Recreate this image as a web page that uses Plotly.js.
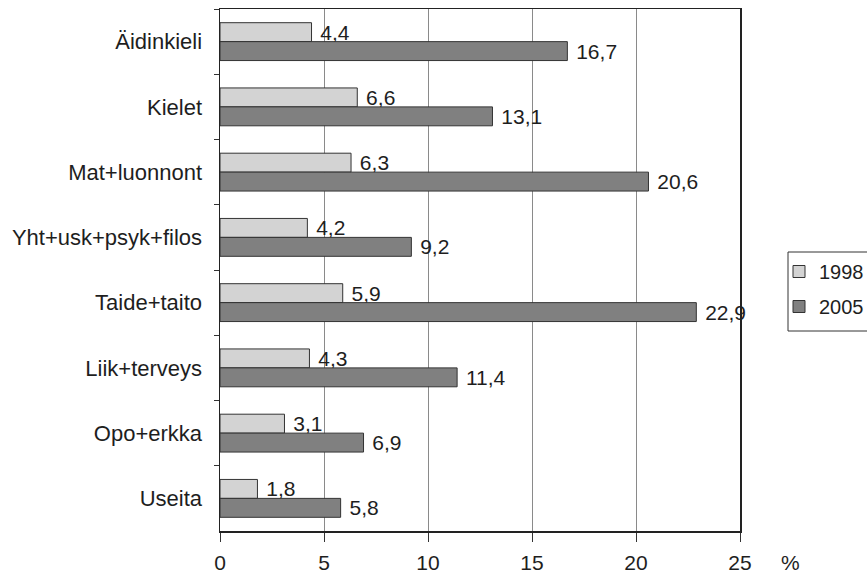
<!DOCTYPE html>
<html>
<head>
<meta charset="utf-8">
<script src="https://cdn.plot.ly/plotly-3.0.1.min.js"></script>
<style>html,body{margin:0;padding:0;background:#fff;}#chart{width:867px;height:574px;}</style>
</head>
<body>
<div id="chart"></div>
<script>
const categories = ["Äidinkieli", "Kielet", "Mat+luonnont", "Yht+usk+psyk+filos", "Taide+taito", "Liik+terveys", "Opo+erkka", "Useita"];
const values1998 = [4.4, 6.6, 6.3, 4.2, 5.9, 4.3, 3.1, 1.8];
const values2005 = [16.7, 13.1, 20.6, 9.2, 22.9, 11.4, 6.9, 5.8];
const seriesNames = ["1998", "2005"];
const xTicks = [0, 5, 10, 15, 20, 25];

const fmt = v => ' ' + v.toFixed(1).replace('.', ',');
const FONT = 'Liberation Sans, Arial, sans-serif';
const TXT = '#1e1e1e';

function barTrace(name, vals, color) {
  return {
    type: 'bar', orientation: 'h', name: name, legendgroup: name,
    y: categories, x: vals,
    text: vals.map(fmt), textposition: 'outside', cliponaxis: false,
    constraintext: 'none',
    textfont: {family: FONT, size: 21, color: TXT},
    marker: {color: color, line: {color: '#333333', width: 1}},
    hoverinfo: 'x+y'
  };
}

const data = [
  barTrace(seriesNames[0], values1998, '#d3d3d3'),
  barTrace(seriesNames[1], values2005, '#808080')
];

const W = 867, H = 574;
const layout = {
  width: W, height: H,
  margin: {l: 220, r: 127, t: 9, b: 43, pad: 0},
  paper_bgcolor: '#ffffff', plot_bgcolor: '#ffffff',
  font: {family: FONT, size: 21, color: TXT},
  barmode: 'group', bargap: 0.42, bargroupgap: 0,
  showlegend: true,
  legend: {
    xref: 'container', yref: 'container',
    x: 779 / W, xanchor: 'left', y: 1 - 252 / H, yanchor: 'top',
    borderwidth: 0, bgcolor: 'rgba(0,0,0,0)',
    font: {family: FONT, size: 20, color: TXT},
    tracegroupgap: 6, itemwidth: 30
  },
  shapes: [{
    type: 'rect', xref: 'paper', yref: 'paper',
    x0: 1 + (788 - 740) / 520, x1: 1 + (900 - 740) / 520,
    y0: (574 - 43 - 331) / 522, y1: (574 - 43 - 252) / 522,
    line: {color: '#333333', width: 1}, fillcolor: 'rgba(0,0,0,0)', layer: 'below'
  }],
  xaxis: {
    range: [0, 25], tickvals: xTicks, ticktext: xTicks.map(String),
    showgrid: true, gridcolor: '#8a8a8a', gridwidth: 1,
    zeroline: false,
    showline: true, linecolor: '#222222', linewidth: 1.5, mirror: true,
    ticks: 'outside', ticklen: 9, tickcolor: '#333333',
    tickfont: {family: FONT, size: 21, color: TXT},
    ticklabelstandoff: 3, fixedrange: true
  },
  yaxis: {
    type: 'category', autorange: 'reversed',
    showgrid: false, zeroline: false,
    showline: true, linecolor: '#222222', linewidth: 1.5, mirror: true,
    ticks: 'outside', ticklen: 5, tickcolor: '#333333', tickson: 'boundaries',
    tickfont: {family: FONT, size: 22, color: TXT},
    ticklabelstandoff: 12, fixedrange: true
  },
  annotations: [{
    text: '%', xref: 'paper', yref: 'paper', x: 1 + (790 - 740) / 520, y: 0,
    xanchor: 'center', yanchor: 'top', yshift: -19, showarrow: false,
    borderpad: 0,
    font: {family: FONT, size: 21, color: TXT}
  }]
};

Plotly.newPlot('chart', data, layout, {displayModeBar: false, staticPlot: true});
</script>
</body>
</html>
